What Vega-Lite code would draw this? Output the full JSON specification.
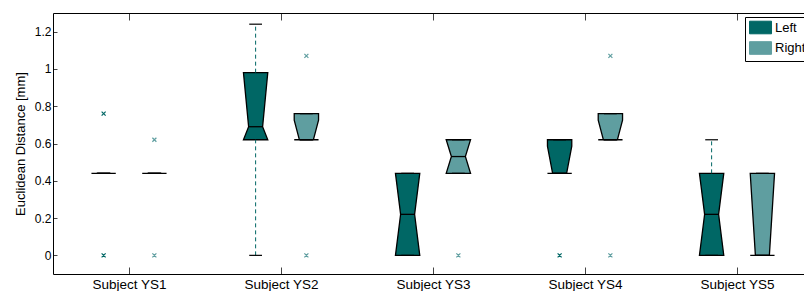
{
  "$schema": "https://vega.github.io/schema/vega-lite/v6.json",
  "width": 751,
  "height": 261,
  "autosize": {"type": "none"},
  "padding": {"left": 53, "top": 13, "right": 0, "bottom": 17},
  "background": "white",
  "config": {
    "view": {"stroke": null},
    "font": "Liberation Sans",
    "axis": {"grid": false, "domainColor": "#000", "domainWidth": 1, "labelColor": "#000", "titleColor": "#000", "labelFont": "Liberation Sans", "titleFont": "Liberation Sans", "tickColor": "#444"},
    "legend": {"symbolStrokeColor": "#000", "symbolStrokeWidth": 1}
  },
  "datasets": {
    "boxes": [
      {"subject": 1, "side": "Left", "q1": 0.44, "nlo": 0.44, "med": 0.44, "nhi": 0.44, "q3": 0.44, "wlo": 0.44, "whi": 0.44},
      {"subject": 1, "side": "Right", "q1": 0.44, "nlo": 0.44, "med": 0.44, "nhi": 0.44, "q3": 0.44, "wlo": 0.44, "whi": 0.44},
      {"subject": 2, "side": "Left", "q1": 0.62, "nlo": 0.62, "med": 0.69, "nhi": 0.98, "q3": 0.98, "wlo": 0, "whi": 1.24},
      {"subject": 2, "side": "Right", "q1": 0.62, "nlo": 0.62, "med": 0.62, "nhi": 0.725, "q3": 0.76, "wlo": 0.62, "whi": 0.76},
      {"subject": 3, "side": "Left", "q1": 0, "nlo": 0, "med": 0.22, "nhi": 0.44, "q3": 0.44, "wlo": 0, "whi": 0.44},
      {"subject": 3, "side": "Right", "q1": 0.44, "nlo": 0.44, "med": 0.53, "nhi": 0.62, "q3": 0.62, "wlo": 0.44, "whi": 0.62},
      {"subject": 4, "side": "Left", "q1": 0.44, "nlo": 0.44, "med": 0.44, "nhi": 0.585, "q3": 0.62, "wlo": 0.44, "whi": 0.62},
      {"subject": 4, "side": "Right", "q1": 0.62, "nlo": 0.62, "med": 0.62, "nhi": 0.725, "q3": 0.76, "wlo": 0.62, "whi": 0.76},
      {"subject": 5, "side": "Left", "q1": 0, "nlo": 0, "med": 0.22, "nhi": 0.44, "q3": 0.44, "wlo": 0, "whi": 0.62},
      {"subject": 5, "side": "Right", "q1": 0, "nlo": 0, "med": 0, "nhi": 0.44, "q3": 0.44, "wlo": 0, "whi": 0.44}
    ],
    "outliers": [
      {"subject": 1, "side": "Left", "value": 0.76},
      {"subject": 1, "side": "Left", "value": 0},
      {"subject": 1, "side": "Right", "value": 0.62},
      {"subject": 1, "side": "Right", "value": 0},
      {"subject": 2, "side": "Right", "value": 1.07},
      {"subject": 2, "side": "Right", "value": 0},
      {"subject": 3, "side": "Right", "value": 0},
      {"subject": 4, "side": "Left", "value": 0},
      {"subject": 4, "side": "Right", "value": 1.07},
      {"subject": 4, "side": "Right", "value": 0}
    ]
  },
  "resolve": {"axis": {"x": "independent"}},
  "layer": [
    {
      "data": {"name": "boxes"},
      "transform": [
        {"fold": ["q1", "nlo", "med", "nhi", "q3"], "as": ["stat", "value"]},
        {"calculate": "datum.value + indexof(['q1', 'nlo', 'med', 'nhi', 'q3'], datum.stat) * 1e-9", "as": "vy"},
        {"calculate": "datum.subject + (datum.side === 'Left' ? -0.167 : 0.167)", "as": "pos"},
        {"calculate": "datum.pos - (datum.stat === 'med' ? 0.046 : 0.08)", "as": "xl"},
        {"calculate": "datum.pos + (datum.stat === 'med' ? 0.046 : 0.08)", "as": "xr"}
      ],
      "mark": {"type": "area", "orient": "horizontal", "stroke": "#000", "strokeWidth": 1.3, "opacity": 1, "fillOpacity": 1},
      "encoding": {
        "y": {
          "field": "vy", "type": "quantitative",
          "scale": {"domain": [-0.1, 1.3], "nice": false, "zero": false},
          "axis": {"values": [0, 0.2, 0.4, 0.6, 0.8, 1, 1.2], "labelExpr": "format(datum.value, '.1~f')", "ticks": true, "tickSize": -4, "labelPadding": 6, "labelFontSize": 12, "title": "Euclidean Distance [mm]", "titleFontSize": 13, "titleFontWeight": "normal", "titleX": -33, "titleBaseline": "middle", "domain": true}
        },
        "x": {
          "field": "xl", "type": "quantitative", "stack": null,
          "scale": {"domain": [0.5, 5.4408], "nice": false, "zero": false},
          "axis": {"orient": "bottom", "values": [1, 2, 3, 4, 5], "labelExpr": "'Subject YS' + datum.value", "title": null, "ticks": true, "tickSize": -7, "labelPadding": 10, "labelFontSize": 13.5, "domain": true}
        },
        "x2": {"field": "xr"},
        "color": {
          "field": "side", "type": "nominal",
          "scale": {"domain": ["Left", "Right"], "range": ["#006765", "#5f9ea0"]},
          "legend": {"orient": "none", "legendX": 692, "legendY": 4, "title": null, "symbolType": "M-1,-1.05H2.67V1.05H-1Z", "symbolSize": 144, "symbolStrokeColor": "#000", "symbolStrokeWidth": 1, "symbolOpacity": 1, "labelFontSize": 13, "labelOffset": 13, "labelColor": "#000", "padding": 4, "rowPadding": 3.5, "strokeColor": "#000", "fillColor": "#fff",
            "encode": {"symbols": {"enter": {"stroke": {"value": "#000"}, "strokeWidth": {"value": 1}}, "update": {"stroke": {"value": "#000"}, "strokeWidth": {"value": 1}, "opacity": {"value": 1}}}}}
        },
        "detail": {"field": "subject", "type": "nominal"}
      }
    },
    {
      "data": {"name": "boxes"},
      "transform": [
        {"calculate": "datum.subject + (datum.side === 'Left' ? -0.167 : 0.167)", "as": "pos"}
      ],
      "mark": {"type": "rule", "strokeDash": [4, 3], "strokeWidth": 1},
      "encoding": {
        "x": {"field": "pos", "type": "quantitative", "axis": null},
        "y": {"field": "q3", "type": "quantitative"},
        "y2": {"field": "whi"},
        "color": {"field": "side", "type": "nominal"}
      }
    },
    {
      "data": {"name": "boxes"},
      "transform": [
        {"calculate": "datum.subject + (datum.side === 'Left' ? -0.167 : 0.167)", "as": "pos"}
      ],
      "mark": {"type": "rule", "strokeDash": [4, 3], "strokeWidth": 1},
      "encoding": {
        "x": {"field": "pos", "type": "quantitative", "axis": null},
        "y": {"field": "wlo", "type": "quantitative"},
        "y2": {"field": "q1"},
        "color": {"field": "side", "type": "nominal"}
      }
    },
    {
      "data": {"name": "boxes"},
      "transform": [
        {"fold": ["wlo", "whi"], "as": ["stat", "value"]},
        {"calculate": "datum.subject + (datum.side === 'Left' ? -0.167 : 0.167)", "as": "pos"},
        {"calculate": "datum.pos - 0.042", "as": "cl"},
        {"calculate": "datum.pos + 0.042", "as": "cr"}
      ],
      "mark": {"type": "rule", "color": "#000", "strokeWidth": 1.2},
      "encoding": {
        "x": {"field": "cl", "type": "quantitative", "axis": null},
        "x2": {"field": "cr"},
        "y": {"field": "value", "type": "quantitative"}
      }
    },
    {
      "data": {"name": "boxes"},
      "transform": [
        {"calculate": "datum.subject + (datum.side === 'Left' ? -0.167 : 0.167)", "as": "pos"},
        {"calculate": "datum.pos - 0.046", "as": "ml"},
        {"calculate": "datum.pos + 0.046", "as": "mr"}
      ],
      "mark": {"type": "rule", "color": "#000", "strokeWidth": 1.3},
      "encoding": {
        "x": {"field": "ml", "type": "quantitative", "axis": {"orient": "top", "values": [1, 2, 3, 4, 5], "labels": false, "title": null, "ticks": true, "tickSize": -7, "domain": true}},
        "x2": {"field": "mr"},
        "y": {"field": "med", "type": "quantitative"}
      }
    },
    {
      "data": {"name": "outliers"},
      "transform": [
        {"calculate": "datum.subject + (datum.side === 'Left' ? -0.167 : 0.167)", "as": "pos"}
      ],
      "mark": {"type": "point", "shape": "M-1,-1L1,1M-1,1L1,-1", "filled": false, "size": 16, "strokeWidth": 1.2, "opacity": 1},
      "encoding": {
        "x": {"field": "pos", "type": "quantitative", "axis": null},
        "y": {"field": "value", "type": "quantitative"},
        "color": {"field": "side", "type": "nominal"}
      }
    }
  ]
}
